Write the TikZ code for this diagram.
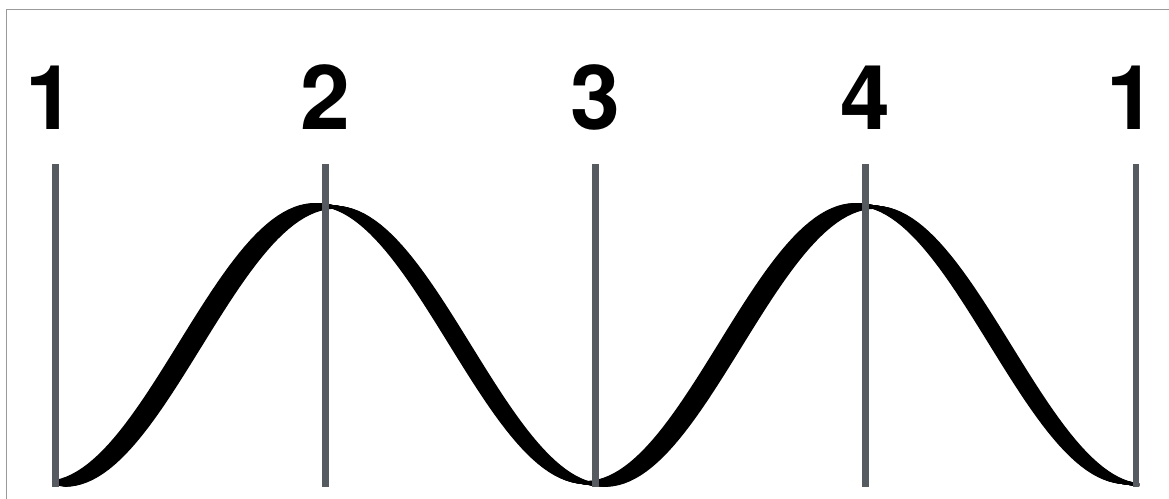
\documentclass[tikz,border=0pt]{standalone}
\usepackage{fontspec}
\setmainfont{TeX Gyre Heros}
\definecolor{beatgray}{HTML}{565A61}
\definecolor{framegray}{HTML}{9A9A9A}
\tikzset{
  beatline/.style={draw=beatgray, line width=3.8pt},
  beatlabel/.style={font=\fontsize{51}{51}\selectfont\bfseries, anchor=base, inner sep=0pt},
  wave/.style={line width=1.7pt, line cap=round}
}
\begin{document}
\begin{tikzpicture}[x=0.02cm, y=-0.02cm]
    % frame
    \useasboundingbox (0,0) rectangle (1169,499);
    \draw[framegray, line width=0.9pt] (6.5,505) -- (6.5,9.5) -- (1175,9.5);
    % wave, drawn with a flat nib
    \begin{scope}
        \clip (52,0) rectangle (1139,499);
        \foreach \t in {-0.5,-0.45,...,0.5}
            \draw[wave, shift={(21*\t,3*\t)}] plot[domain=0:4, samples=200] ({55.5+270.1*\x},{345+139*cos(180*\x)});
    \end{scope}
    % beat lines and numbers
    \foreach \i/\n/\dx in {0/1/-5,1/2/0,2/3/0,3/4/0,4/1/-5} {
        \coordinate (top\i) at ({55.5+270.1*\i},164);
        \coordinate (bot\i) at ({55.5+270.1*\i},487);
        \draw[beatline] (top\i) -- (bot\i);
        \node[beatlabel] (num\i) at ({55.5+270.1*\i+\dx},130) {\n};
    }
\end{tikzpicture}
\end{document}
